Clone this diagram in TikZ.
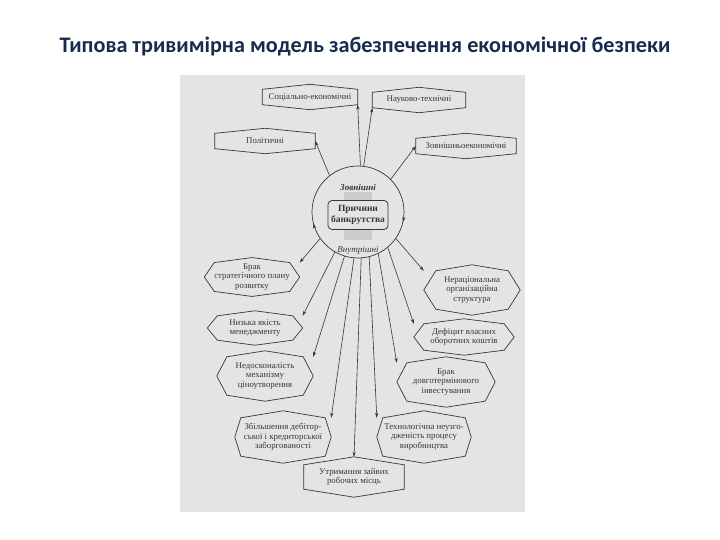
\documentclass[tikz,border=0pt]{standalone}
\usepackage{fontspec}
\setmainfont{Liberation Serif}
\newfontfamily\titlefont{Carlito}
\usetikzlibrary{arrows.meta,decorations.markings,calc}
\definecolor{titleblue}{RGB}{23,43,77}
\definecolor{scan}{RGB}{228,228,228}
\definecolor{ink}{RGB}{55,55,55}
\newcommand\hexbox[3]{%
  \draw[hexline] (#1.west) -- ([xshift=#2]#1.north west) -- ([yshift=#3]#1.north)
    -- ([xshift=-#2]#1.north east) -- (#1.east) -- ([xshift=-#2]#1.south east)
    -- ([yshift=-#3]#1.south) -- ([xshift=#2]#1.south west) -- cycle;}
\begin{document}
\begin{tikzpicture}[x=1pt,y=1pt,
  hexline/.style={draw=ink, line width=0.7pt},
  lbl/.style={font=\fontsize{8.8}{9.4}\selectfont, text=ink, align=center, inner sep=1pt},
  arr/.style={draw=ink, line width=0.6pt, -{Stealth[length=5pt,width=3.2pt]}},
  circline/.style={draw=ink, line width=0.7pt}
]
\useasboundingbox (0,0) rectangle (720,-540);
\fill[white] (0,0) rectangle (720,-540);
% scanned page area
\fill[scan] (180,-75) rectangle (525,-512);

% title
\node[font=\titlefont\bfseries\fontsize{22.2}{24}\selectfont, text=titleblue, inner sep=0pt] (title) at (365,-47) {Типова тривимірна модель забезпечення економічної безпеки};

% external factors
\node[lbl, minimum width=95pt, minimum height=15pt] (soc) at (310,-97) {Соціально-економічні};
\node[lbl, minimum width=93pt, minimum height=15pt] (nauk) at (419,-100) {Науково-технічні};
\node[lbl, minimum width=100pt, minimum height=15pt] (polit) at (265,-141) {Політичні};
\node[lbl, minimum width=100pt, minimum height=15pt] (zovn) at (466,-146) {Зовнішньоекономічні};
\hexbox{soc}{0pt}{5pt}
\hexbox{nauk}{0pt}{5pt}
\hexbox{polit}{0pt}{5pt}
\hexbox{zovn}{0pt}{5pt}

% centre
\fill[gray!40] (344,-192) rectangle (372,-240);
\node[lbl, font=\fontsize{9.5}{10.5}\selectfont\bfseries, draw=ink, line width=0.8pt, fill=scan, rounded corners=4pt, minimum width=60pt, minimum height=29pt] (cause) at (358,-215) {Причини\\банкрутства};
\node[circle, minimum size=92pt, inner sep=0pt] (c) at (358,-212) {};
\draw[circline, postaction={decorate}, decoration={markings,
   mark=at position 0.035 with {\arrow{Stealth[length=5pt,width=3.2pt]}},
   mark=at position 0.46 with {\arrow{Stealth[length=5pt,width=3.2pt]}}}]
  (404,-212) arc[start angle=0, end angle=-360, radius=46];
\node[lbl, font=\fontsize{9}{10}\selectfont\bfseries\itshape] (zl) at (358,-187) {Зовнішні};
\node[lbl, font=\fontsize{9}{10}\selectfont\itshape] (vl) at (358,-250) {Внутрішні};

% internal factors
\node[lbl, minimum width=95pt, minimum height=26pt] (brak1) at (252,-277) {Брак\\стратегічного плану\\розвитку};
\node[lbl, minimum width=96pt, minimum height=38pt] (nerac) at (472,-290) {Нераціональна\\організаційна\\структура};
\node[lbl, minimum width=95pt, minimum height=24pt] (nyz) at (255,-328) {Низька якість\\менеджменту};
\node[lbl, minimum width=100pt, minimum height=26pt] (defic) at (464,-337) {Дефіцит власних\\оборотних коштів};
\node[lbl, minimum width=96pt, minimum height=38pt] (nedos) at (265,-376) {Недосконалість\\механізму\\ціноутворення};
\node[lbl, minimum width=98pt, minimum height=38pt] (brak2) at (446,-382) {Брак\\довготермінового\\інвестування};
\node[lbl, minimum width=96pt, minimum height=38pt] (zbil) at (283,-437) {Збільшення дебітор-\\ської і кредиторської\\заборгованості};
\node[lbl, minimum width=94pt, minimum height=38pt] (tekh) at (424,-437) {Технологічна неузго-\\дженість процесу\\виробництва};
\node[lbl, minimum width=100pt, minimum height=24pt] (utr) at (354,-477) {Утримання зайвих\\робочих місць};
\hexbox{brak1}{10pt}{5pt}
\hexbox{nerac}{12pt}{6pt}
\hexbox{nyz}{10pt}{5pt}
\hexbox{defic}{10pt}{5pt}
\hexbox{nedos}{10pt}{6pt}
\hexbox{brak2}{10pt}{6pt}
\hexbox{zbil}{6pt}{7pt}
\hexbox{tekh}{6pt}{7pt}
\hexbox{utr}{0pt}{8pt}

% arrows to external
\draw[arr] (c.87) -- (soc.south east);
\draw[arr] (c.83) -- (nauk.south west);
\draw[arr] (c.128) -- (polit.east);
\draw[arr] (c.45) -- (zovn.west);

% arrows to internal
\draw[arr] (c.215) -- (brak1.north east);
\draw[arr] (c.240) -- (nyz.north east);
\draw[arr] (c.253) -- (nedos.north east);
\draw[arr] (c.265) -- (zbil.north east);
\draw[arr] (c.274) -- ([yshift=8pt]utr.north);
\draw[arr] (c.284) -- (tekh.north west);
\draw[arr] (c.296) -- (brak2.north west);
\draw[arr] (c.310) -- (defic.north west);
\draw[arr] (c.325) -- (nerac.north west);
\end{tikzpicture}
\end{document}
